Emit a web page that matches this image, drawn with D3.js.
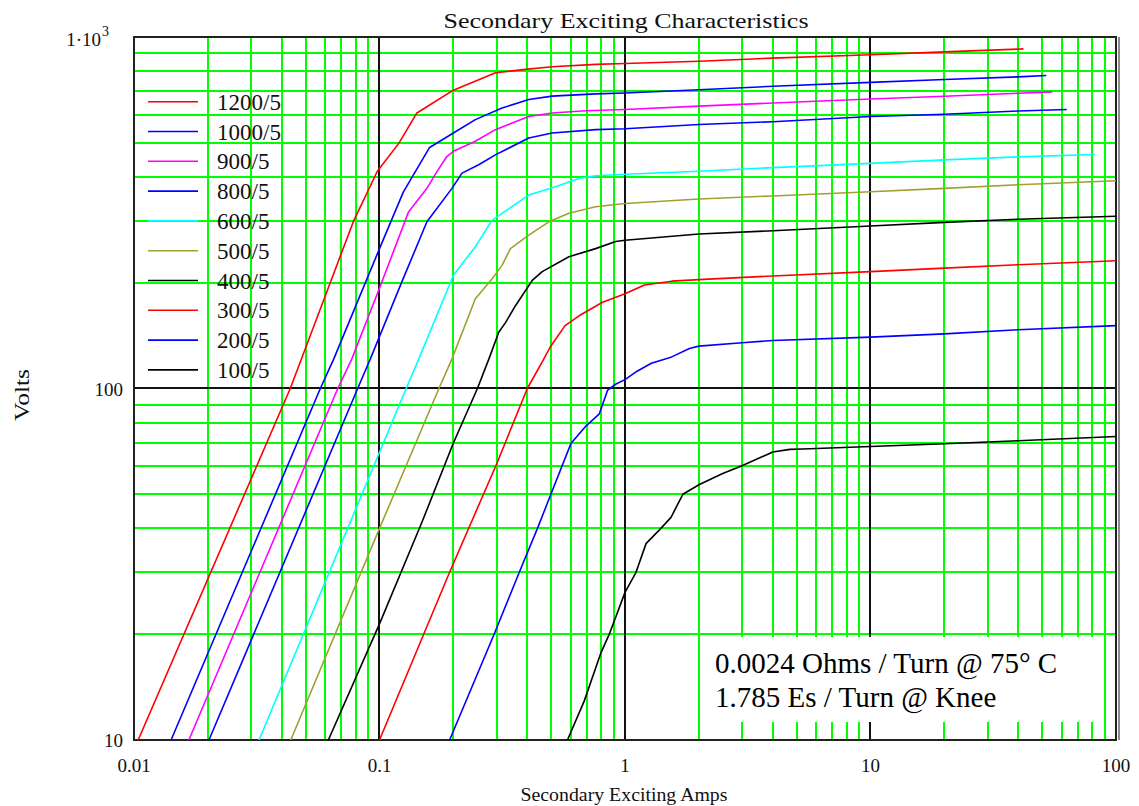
<!DOCTYPE html>
<html><head><meta charset="utf-8">
<script src="https://cdn.jsdelivr.net/npm/d3@7"></script>
<style>body{margin:0;background:#fff}svg{display:block}</style>
</head><body><svg id="c" width="1139" height="806"></svg>
<script>
// ---------- data ----------
const seriesNames = ["1200/5","1000/5","900/5","800/5","600/5","500/5","400/5","300/5","200/5","100/5"];
const seriesColors = ["#ff0000","#0000ff","#ff00ff","#0000ff","#00ffff","#a0a030","#000000","#ff0000","#0000ff","#000000"];

const amps1200 = [0.0104,0.0433,0.063,0.0785,0.098,0.12,0.142,0.2,0.297,0.393,0.505,0.759,1.0,2,4,10,20,42];
const volts1200 = [10,100,200,300,415,499,608,706,791,809,823,836,841,853,871,890,907,925];

const amps1000 = [0.01416,0.0574,0.065,0.1,0.125,0.16,0.2,0.2457,0.3156,0.4055,0.505,0.759,1,2,4,10,20,40,52];
const volts1000 = [10,100,121,250,362,485,533,582,628,664,679,689,693,708,724,743,757,770,777];

const amps900 = [0.01673,0.0676,0.077,0.1006,0.1313,0.156,0.1714,0.188,0.2,0.2457,0.2965,0.4055,0.505,0.691,1,2,4,10,20,40,55];
const volts900 = [10,100,121,195,318,371,414,457,473,505,545,594,608,617,622,636,649,666,678,692,698];

const amps800 = [0.0202,0.0815,0.0916,0.1233,0.156,0.1973,0.2168,0.2535,0.2965,0.4055,0.505,0.759,1,2,4,10,20,40,63];
const volts800 = [10,100,121,201,298,371,410,433,462,516,533,545,548,564,574,594,603,616,622];

const amps600 = [0.0323,0.1285,0.1443,0.2,0.2457,0.2873,0.3156,0.4055,0.521,0.649,0.759,1,2,4,10,20,40,82];
const volts600 = [10,100,121,210,253,301,315,355,375,396,403,407,415,425,437,447,456,463];

const amps500 = [0.0435,0.1,0.1746,0.197,0.2457,0.2873,0.3156,0.3414,0.4055,0.4897,0.591,0.759,1,2,4,10,20,40,100];
const volts500 = [10,40,100,121,180,205,224,250,273,298,315,329,336,346,353,363,371,380,390];

const amps400 = [0.0619,0.1,0.149,0.2,0.2505,0.2786,0.306,0.326,0.358,0.419,0.46,0.591,0.759,0.916,1,2,4,10,20,40,100];
const volts400 = [10,21.4,41.7,70,100,121,144.5,154,172,203,215,237,250,262,264,275,281,290,297,303,309];

const amps300 = [0.1,0.193,0.3,0.4,0.463,0.495,0.57,0.65,0.81,1,1.2,1.55,2,4,10,20,40,100];
const volts300 = [10,30,61,100,120,131,151,161,176,186,197,202,204,209,215,220,225,231];

const amps200 = [0.193,0.293,0.371,0.44,0.499,0.602,0.693,0.786,0.85,0.919,1,1.12,1.28,1.55,1.83,2,3,4,10,20,40,100];
const volts200 = [10,20,30,40,50,69.7,78.2,84.7,99,103,106,112,118,123,130,132,135,137,140,143,147,151];

const amps100 = [0.583,0.682,0.798,0.863,1,1.109,1.218,1.4,1.54,1.72,2.01,2.5,2.98,4,4.69,5.3,10,20,40,100];
const volts100 = [10,12.9,17.7,20,26.3,30,36.2,40,43,50,53.3,57.3,60.2,66,67.1,67.3,68.4,69.6,71,73];

const seriesAmps = [amps1200,amps1000,amps900,amps800,amps600,amps500,amps400,amps300,amps200,amps100];
const seriesVolts = [volts1200,volts1000,volts900,volts800,volts600,volts500,volts400,volts300,volts200,volts100];

const xTickValues = [0.01,0.1,1,10,100];
const xTickLabels = ["0.01","0.1","1","10","100"];
const yTickValues = [10,100];
const yTickLabels = ["10","100"];
const chartTitle = "Secondary Exciting Characteristics";
const xTitle = "Secondary Exciting Amps";
const yTitle = "Volts";
const noteLines = ["0.0024 Ohms / Turn @ 75\u00B0 C","1.785 Es / Turn @ Knee"];

// ---------- drawing ----------
const svg = d3.select("#c");
const L = 134, R = 1116, T = 37, B = 740;
const x = d3.scaleLog().domain([0.01,100]).range([L,R]);
const y = d3.scaleLog().domain([10,1000]).range([B,T]);

const minorX = [], majorX = [];
[0.01,0.1,1,10].forEach(d => { for (let m=2;m<=9;m++) minorX.push(d*m); if (d>0.01) majorX.push(d); });
const minorY = [], majorY = [];
[10,100].forEach(d => { for (let m=2;m<=9;m++) minorY.push(d*m); if (d>10) majorY.push(d); });

const g = svg.append("g");
g.selectAll(".gx").data(minorX).enter().append("line")
  .attr("x1",d=>Math.round(x(d))).attr("x2",d=>Math.round(x(d))).attr("y1",T).attr("y2",B)
  .attr("stroke","#00ff00").attr("stroke-width",2);
g.selectAll(".gy").data(minorY).enter().append("line")
  .attr("y1",d=>Math.round(y(d))).attr("y2",d=>Math.round(y(d))).attr("x1",L).attr("x2",R)
  .attr("stroke","#00ff00").attr("stroke-width",2);
g.selectAll(".mx").data(majorX).enter().append("line")
  .attr("x1",d=>Math.round(x(d))).attr("x2",d=>Math.round(x(d))).attr("y1",T).attr("y2",B)
  .attr("stroke","#111").attr("stroke-width",2);
g.selectAll(".my").data(majorY).enter().append("line")
  .attr("y1",d=>Math.round(y(d))).attr("y2",d=>Math.round(y(d))).attr("x1",L).attr("x2",R)
  .attr("stroke","#111").attr("stroke-width",2);

// annotation box (covers grid)
svg.append("rect").attr("x",700).attr("y",637).attr("width",398).attr("height",85).attr("fill","#fff");

// frame
svg.append("rect").attr("x",L).attr("y",T).attr("width",R-L).attr("height",B-T)
  .attr("fill","none").attr("stroke","#222").attr("stroke-width",2);
svg.append("line").attr("x1",R+3).attr("x2",R+3).attr("y1",T).attr("y2",B).attr("stroke","#666").attr("stroke-width",1.5);

// curves
const line = d3.line().x(d=>x(d[0])).y(d=>y(d[1]));
seriesNames.forEach((n,i) => {
  const pts = seriesAmps[i].map((a,j)=>[a, seriesVolts[i][j]]);
  svg.append("path").datum(pts).attr("d",line).attr("fill","none")
    .attr("stroke",seriesColors[i]).attr("stroke-width",1.6).attr("stroke-linejoin","round");
});

// legend
const lg = svg.append("g");
seriesNames.forEach((n,i) => {
  const yy = 101.7 + i*29.8;
  lg.append("line").attr("x1",148).attr("x2",198).attr("y1",yy).attr("y2",yy)
    .attr("stroke",seriesColors[i]).attr("stroke-width",1.6);
  lg.append("text").attr("x",217).attr("y",yy+8).text(n)
    .attr("font-family","Liberation Serif").attr("font-size",23).attr("fill","#111");
});

// note text
noteLines.forEach((t,i) => {
  svg.append("text").attr("x",715).attr("y",673+i*34).text(t)
    .attr("font-family","Liberation Serif").attr("font-size",29).attr("fill","#000");
});

// ticks
const serif = "Liberation Serif";
svg.selectAll(".xt").data(xTickValues).enter().append("text")
  .attr("x",d=>x(d)).attr("y",772).attr("text-anchor","middle")
  .attr("font-family",serif).attr("font-size",19).attr("fill","#111")
  .text((d,i)=>xTickLabels[i]);
svg.selectAll(".yt").data(yTickValues).enter().append("text")
  .attr("x",123).attr("y",d=>y(d)+7).attr("text-anchor","end")
  .attr("font-family",serif).attr("font-size",19).attr("fill","#111")
  .text((d,i)=>yTickLabels[i]);
const topLbl = svg.append("text").attr("x",101).attr("y",y(1000)+9).attr("text-anchor","end")
  .attr("font-family",serif).attr("font-size",19).attr("fill","#111");
topLbl.append("tspan").text("1\u00B710");
svg.append("text").attr("x",102).attr("y",y(1000)-1).attr("font-family",serif).attr("font-size",14).attr("fill","#111").text("3");

// titles
svg.append("text").attr("x",626).attr("y",28).attr("text-anchor","middle")
  .attr("font-family",serif).attr("font-size",22).attr("fill","#111")
  .attr("textLength",365).attr("lengthAdjust","spacingAndGlyphs").text(chartTitle);
svg.append("text").attr("x",624).attr("y",801).attr("text-anchor","middle")
  .attr("font-family",serif).attr("font-size",18).attr("fill","#111")
  .attr("textLength",207).attr("lengthAdjust","spacingAndGlyphs").text(xTitle);
svg.append("text").attr("transform","translate(29,395) rotate(-90)").attr("text-anchor","middle")
  .attr("font-family",serif).attr("font-size",21).attr("fill","#111")
  .attr("textLength",52).attr("lengthAdjust","spacingAndGlyphs").text(yTitle);
</script></body></html>
